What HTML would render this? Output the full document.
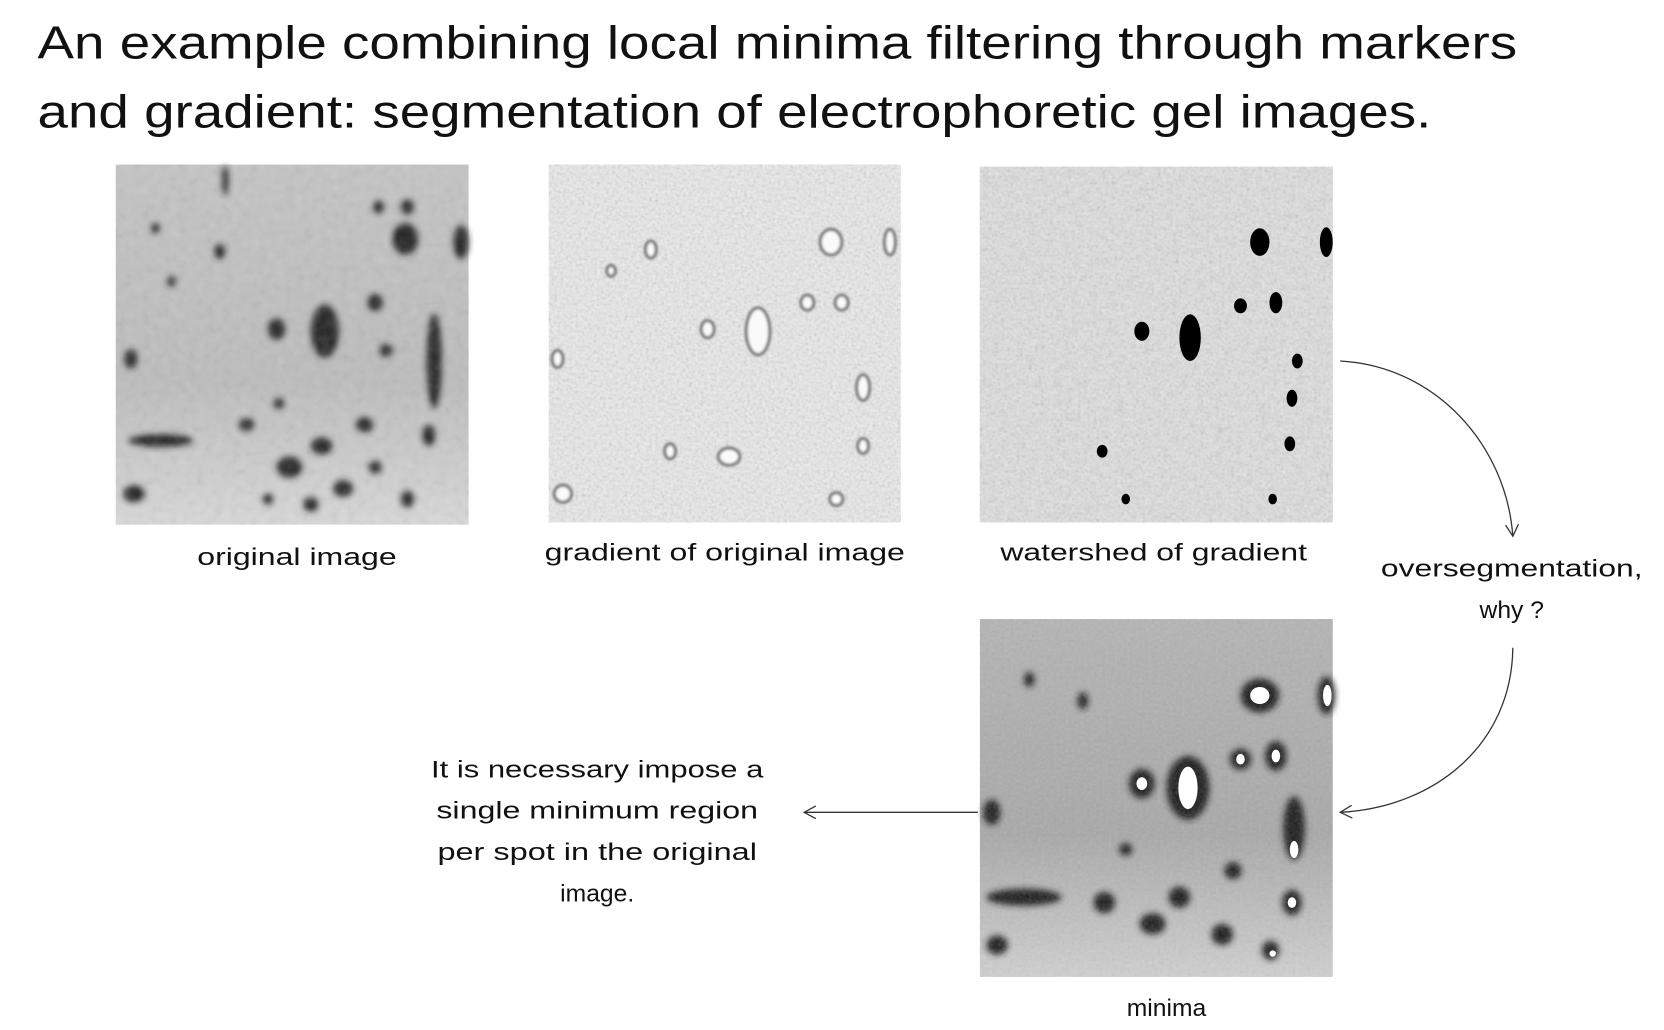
<!DOCTYPE html>
<html><head><meta charset="utf-8"><style>
html,body{margin:0;padding:0;background:#fff;width:1664px;height:1030px;overflow:hidden}
svg{display:block}
text{font-family:"Liberation Sans",sans-serif;fill:#111}
</style></head><body>
<svg width="1664" height="1030" viewBox="0 0 1552 970" preserveAspectRatio="none">
<defs>
<filter id="b3"><feGaussianBlur stdDeviation="3"/></filter>
<filter id="b1"><feGaussianBlur stdDeviation="1.2"/></filter>
<filter id="noise" x="0" y="0" width="1" height="1"><feTurbulence type="fractalNoise" baseFrequency="0.35" numOctaves="2" seed="3"/><feColorMatrix type="saturate" values="0"/><feComponentTransfer><feFuncA type="linear" slope="0.45"/></feComponentTransfer></filter>
<filter id="noise2" x="0" y="0" width="1" height="1"><feTurbulence type="fractalNoise" baseFrequency="0.12" numOctaves="3" seed="7"/><feColorMatrix type="saturate" values="0"/><feComponentTransfer><feFuncA type="linear" slope="0.6"/></feComponentTransfer></filter>
<linearGradient id="og" x1="0" y1="0" x2="0" y2="1"><stop offset="0" stop-color="#c4c4c4"/><stop offset="0.6" stop-color="#bcbcbc"/><stop offset="1" stop-color="#d8d8d8"/></linearGradient>
<linearGradient id="mg" x1="0" y1="0" x2="0" y2="1"><stop offset="0" stop-color="#b4b4b4"/><stop offset="0.6" stop-color="#a8a8a8"/><stop offset="1" stop-color="#d0d0d0"/></linearGradient>
<marker id="ah" markerWidth="14" markerHeight="14" refX="12" refY="7" orient="auto" markerUnits="userSpaceOnUse"><path d="M1,1 L12,7 L1,13" fill="none" stroke="#333" stroke-width="1.2"/></marker>
</defs>

<text x="35" y="55" font-size="44" textLength="1380" lengthAdjust="spacingAndGlyphs">An example combining local minima filtering through markers</text>
<text x="35" y="120" font-size="44" textLength="1300" lengthAdjust="spacingAndGlyphs">and gradient: segmentation of electrophoretic gel images.</text>

<g>
<rect x="108" y="155" width="329" height="339" fill="url(#og)"/>
<g filter="url(#b3)" fill="#222">
<ellipse cx="303" cy="312" rx="13" ry="25"/><ellipse cx="258" cy="310" rx="8" ry="10"/><ellipse cx="122" cy="338" rx="6" ry="9"/>
<ellipse cx="378" cy="225" rx="12" ry="15"/><ellipse cx="430" cy="228" rx="7" ry="16"/><ellipse cx="350" cy="285" rx="7" ry="8"/>
<ellipse cx="380" cy="195" rx="6" ry="7"/><ellipse cx="353" cy="195" rx="5" ry="6"/><ellipse cx="205" cy="237" rx="5" ry="7"/>
<ellipse cx="405" cy="340" rx="7" ry="45"/><ellipse cx="400" cy="410" rx="6" ry="10"/><ellipse cx="380" cy="470" rx="6" ry="8"/>
<ellipse cx="150" cy="415" rx="30" ry="6"/><ellipse cx="125" cy="465" rx="10" ry="8"/><ellipse cx="270" cy="440" rx="12" ry="10"/>
<ellipse cx="300" cy="420" rx="10" ry="8"/><ellipse cx="320" cy="460" rx="9" ry="8"/><ellipse cx="340" cy="400" rx="8" ry="7"/>
<ellipse cx="230" cy="400" rx="7" ry="6"/><ellipse cx="360" cy="330" rx="6" ry="6"/><ellipse cx="160" cy="265" rx="4" ry="5"/>
<ellipse cx="145" cy="215" rx="4" ry="5"/><ellipse cx="260" cy="380" rx="5" ry="5"/><ellipse cx="350" cy="440" rx="6" ry="6"/>
<ellipse cx="290" cy="475" rx="7" ry="7"/><ellipse cx="210" cy="170" rx="3" ry="14"/><ellipse cx="250" cy="470" rx="5" ry="5"/>
</g>
<rect x="108" y="155" width="329" height="339" filter="url(#noise2)" opacity="0.35"/>
</g>
<text x="277" y="532" font-size="23" text-anchor="middle" textLength="186" lengthAdjust="spacingAndGlyphs">original image</text>

<g>
<rect x="512" y="155" width="328" height="337" fill="#ececec"/>
<rect x="512" y="155" width="328" height="337" filter="url(#noise)"/>
<g fill="#fafafa" stroke="#777" stroke-width="3" filter="url(#b1)">
<ellipse cx="707" cy="312" rx="11" ry="22"/><ellipse cx="775" cy="228" rx="10" ry="12"/><ellipse cx="805" cy="365" rx="6" ry="12"/>
<ellipse cx="830" cy="228" rx="5" ry="12"/><ellipse cx="660" cy="310" rx="6" ry="8"/><ellipse cx="607" cy="235" rx="5" ry="8"/>
<ellipse cx="520" cy="338" rx="5" ry="8"/><ellipse cx="785" cy="285" rx="6" ry="7"/><ellipse cx="625" cy="425" rx="5" ry="7"/>
<ellipse cx="805" cy="420" rx="5" ry="7"/><ellipse cx="780" cy="470" rx="6" ry="6"/><ellipse cx="525" cy="465" rx="8" ry="8"/>
<ellipse cx="680" cy="430" rx="10" ry="8"/><ellipse cx="753" cy="285" rx="6" ry="7"/><ellipse cx="570" cy="255" rx="4" ry="5"/>
</g>
</g>
<text x="676" y="528" font-size="23" text-anchor="middle" textLength="336" lengthAdjust="spacingAndGlyphs">gradient of original image</text>

<g>
<rect x="914" y="157" width="329" height="335" fill="#e4e4e4"/>
<rect x="914" y="157" width="329" height="335" filter="url(#noise)"/>
<rect x="914" y="157" width="329" height="335" filter="url(#noise2)" opacity="0.3"/>
<g fill="#000">
<ellipse cx="1110" cy="318" rx="10" ry="22"/><ellipse cx="1065" cy="312" rx="7" ry="9"/><ellipse cx="1175" cy="228" rx="9" ry="13"/>
<ellipse cx="1237" cy="228" rx="6" ry="14"/><ellipse cx="1157" cy="288" rx="6" ry="7"/><ellipse cx="1190" cy="285" rx="6" ry="10"/>
<ellipse cx="1205" cy="375" rx="5" ry="8"/><ellipse cx="1203" cy="418" rx="5" ry="7"/><ellipse cx="1187" cy="470" rx="4" ry="5"/>
<ellipse cx="1028" cy="425" rx="5" ry="6"/><ellipse cx="1050" cy="470" rx="4" ry="5"/><ellipse cx="1210" cy="340" rx="5" ry="7"/>
</g>
</g>
<text x="1076" y="528" font-size="23" text-anchor="middle" textLength="286" lengthAdjust="spacingAndGlyphs">watershed of gradient</text>

<text x="1410" y="543" font-size="23" text-anchor="middle" textLength="244" lengthAdjust="spacingAndGlyphs">oversegmentation,</text>
<text x="1410" y="582" font-size="23" text-anchor="middle">why ?</text>

<g>
<rect x="914" y="583" width="329" height="337" fill="url(#mg)"/>
<g filter="url(#b3)" fill="#1a1a1a">
<ellipse cx="1108" cy="742" rx="20" ry="30"/><ellipse cx="1065" cy="738" rx="12" ry="14"/><ellipse cx="925" cy="765" rx="8" ry="12"/>
<ellipse cx="1175" cy="655" rx="18" ry="16"/><ellipse cx="1237" cy="655" rx="8" ry="18"/><ellipse cx="1157" cy="715" rx="10" ry="10"/>
<ellipse cx="1190" cy="712" rx="10" ry="14"/><ellipse cx="1207" cy="780" rx="10" ry="30"/><ellipse cx="1205" cy="850" rx="9" ry="12"/>
<ellipse cx="955" cy="845" rx="35" ry="8"/><ellipse cx="930" cy="890" rx="10" ry="9"/><ellipse cx="1030" cy="850" rx="10" ry="10"/>
<ellipse cx="1075" cy="870" rx="12" ry="10"/><ellipse cx="1100" cy="845" rx="10" ry="10"/><ellipse cx="1140" cy="880" rx="10" ry="10"/>
<ellipse cx="1185" cy="895" rx="8" ry="9"/><ellipse cx="1010" cy="660" rx="5" ry="8"/><ellipse cx="960" cy="640" rx="5" ry="7"/>
<ellipse cx="1150" cy="820" rx="8" ry="8"/><ellipse cx="1050" cy="800" rx="6" ry="6"/>
</g>
<rect x="914" y="583" width="329" height="337" filter="url(#noise)" opacity="0.5"/>
<g fill="#fff">
<ellipse cx="1108" cy="742" rx="9" ry="20"/><ellipse cx="1065" cy="738" rx="5" ry="6"/><ellipse cx="1175" cy="655" rx="9" ry="8"/>
<ellipse cx="1238" cy="655" rx="4" ry="10"/><ellipse cx="1157" cy="715" rx="4" ry="5"/><ellipse cx="1190" cy="712" rx="4" ry="6"/>
<ellipse cx="1207" cy="800" rx="4" ry="8"/><ellipse cx="1205" cy="850" rx="4" ry="5"/><ellipse cx="1187" cy="898" rx="3" ry="3"/>
</g>
</g>
<text x="1088" y="957" font-size="23" text-anchor="middle">minima</text>

<g font-size="23" text-anchor="middle">
<text x="557" y="732" textLength="310" lengthAdjust="spacingAndGlyphs">It is necessary impose a</text>
<text x="557" y="771" textLength="300" lengthAdjust="spacingAndGlyphs">single minimum region</text>
<text x="557" y="810" textLength="298" lengthAdjust="spacingAndGlyphs">per spot in the original</text>
<text x="557" y="849">image.</text>
</g>

<path d="M1250,340 C1340,345 1405,420 1411,505" fill="none" stroke="#333" stroke-width="1.2" marker-end="url(#ah)"/>
<path d="M1411,610 C1410,700 1340,760 1250,765" fill="none" stroke="#333" stroke-width="1.2" marker-end="url(#ah)"/>
<path d="M912,765 L750,765" fill="none" stroke="#333" stroke-width="1.2" marker-end="url(#ah)"/>
</svg>
</body></html>
